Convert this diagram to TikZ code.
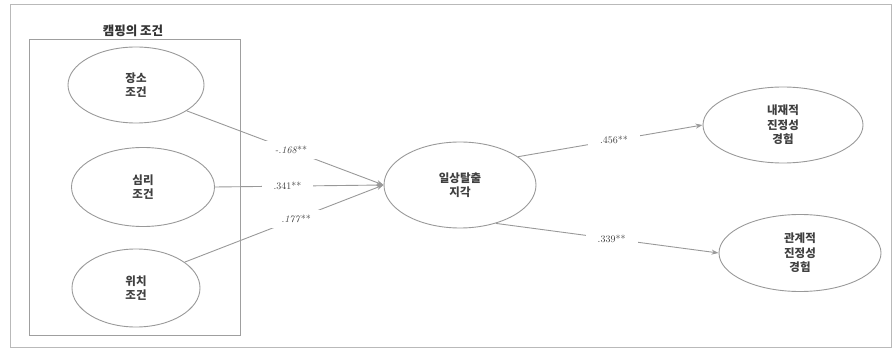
\documentclass[tikz,border=0pt]{standalone}
\usepackage{fontspec}
\newfontfamily\kr{Noto Sans CJK KR}
\usetikzlibrary{shapes.geometric,arrows.meta}
\tikzset{
  ell/.style={ellipse,draw=gray!80,line width=0.9pt,inner sep=0pt,font=\kr\bfseries\fontsize{11.5}{14.5}\selectfont,align=center,text=black!75},
  conn/.style={draw=gray!80,line width=0.9pt},
  arr/.style={conn,-{Stealth[length=7pt,width=5pt]}},
  lab/.style={fill=white,inner xsep=12pt,inner ysep=5pt,font=\fontsize{10}{11}\selectfont,text=black!75}
}
\begin{document}
\begin{tikzpicture}[x=1pt,y=-1pt]
\useasboundingbox (0,0) rectangle (896,355);
\draw[gray!55,line width=0.9pt] (10,4) rectangle (891,347);
\draw[gray!75,line width=0.9pt] (29,39) rectangle (240,335);
\node[font=\kr\bfseries\fontsize{12.5}{14}\selectfont,text=black!80] (title) at (133,31) {캠핑의 조건};
\node[ell,minimum width=136pt,minimum height=76pt] (a) at (136,85) {장소\\조건};
\node[ell,minimum width=143pt,minimum height=79pt] (b) at (143,187) {심리\\조건};
\node[ell,minimum width=128pt,minimum height=78pt] (d) at (136,288) {위치\\조건};
\node[ell,minimum width=152pt,minimum height=86pt] (c) at (460,185) {일상탈출\\지각};
\node[ell,minimum width=160pt,minimum height=76pt] (n1) at (783,125) {내재적\\진정성\\경험};
\node[ell,minimum width=162pt,minimum height=77pt] (n2) at (800,253) {관계적\\진정성\\경험};
\draw[arr] (a.-27) -- node[lab,pos=0.53] {\textit{-.168}**} (c.west);
\draw[arr] (b.east) -- node[lab,pos=0.43] {.341**} (c.west);
\draw[arr] (d.28) -- node[lab,pos=0.56] {\textit{.177}**} (c.west);
\draw[arr] (c.26) -- node[lab,pos=0.52] {.456**} (n1.west);
\draw[arr] (c.-47) -- node[lab,pos=0.52] {.339**} (n2.west);
\end{tikzpicture}
\end{document}
